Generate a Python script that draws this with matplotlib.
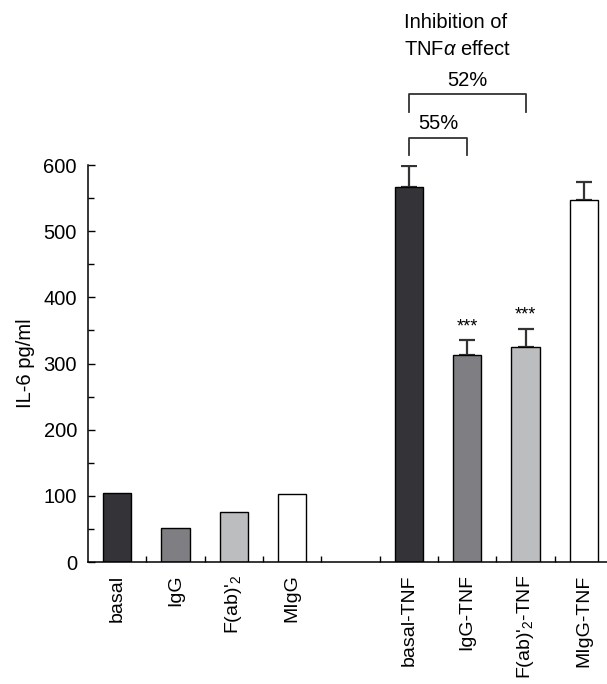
import matplotlib
matplotlib.use("Agg")
import matplotlib.pyplot as plt
from matplotlib.ticker import MultipleLocator

plt.rcParams["font.family"] = ["Liberation Sans", "DejaVu Sans"]
plt.rcParams["mathtext.fontset"] = "custom"
plt.rcParams["mathtext.rm"] = "Liberation Sans"
plt.rcParams["mathtext.it"] = "Liberation Sans:italic"

# data
labels = ["basal", "IgG", "F(ab)$'_{2}$", "MIgG",
          "basal-TNF", "IgG-TNF", "F(ab)$'_{2}$-TNF", "MIgG-TNF"]
positions = [0, 1, 2, 3, 5, 6, 7, 8]
values = [105, 52, 76, 103, 567, 313, 325, 547]
errors = [0, 0, 0, 0, 31, 22, 27, 28]
colours = ["#343438", "#7f7f83", "#bcbdbf", "#ffffff",
           "#343438", "#7f7f83", "#bcbdbf", "#ffffff"]
stars = {6: "***", 7: "***"}
brackets = [(5, 6, 641, 615, "55%"), (5, 7, 707, 680, "52%")]

FS = 14.5

fig = plt.figure(figsize=(6.07, 6.84), dpi=100)
ax = fig.add_axes([88 / 607, 122 / 684, 525 / 607, 397 / 684])

ax.bar(positions, values, width=0.49, color=colours, edgecolor="black",
       linewidth=1.0, zorder=2)
# error bars only on the TNF group (upper side)
for x, v, e in zip(positions, values, errors):
    if e > 0:
        ax.errorbar(x, v, yerr=[[0], [e]], color="#333333", elinewidth=1.6,
                    capsize=6, capthick=1.6, zorder=1)

for x, s in stars.items():
    i = positions.index(x)
    ax.text(x, values[i] + errors[i] + 8, s, ha="center", va="bottom",
            fontsize=13)

for x1, x2, top, bot, txt in brackets:
    ax.plot([x1, x1, x2, x2], [bot, top, top, bot], color="#333333",
            lw=1.3, clip_on=False)
    ax.text((x1 + x2) / 2, top + 7, txt, ha="center", va="bottom",
            fontsize=FS)

fig.text(404 / 607, 1 - 13 / 684, "Inhibition of\nTNF$\\alpha$ effect",
         ha="left", va="top", fontsize=FS, linespacing=1.55)

ax.set_xlim(-0.5, 8.5)
ax.set_ylim(0, 600)
ax.set_xticks(positions)
ax.set_xticklabels(labels, rotation=90, fontsize=14)
ax.set_xticks([p + 0.5 for p in range(8)], minor=True)
ax.tick_params(axis="x", which="major", length=0, pad=9)
ax.tick_params(axis="x", which="minor", direction="in", length=4, width=1)
ax.yaxis.set_major_locator(MultipleLocator(100))
ax.yaxis.set_minor_locator(MultipleLocator(50))
ax.tick_params(axis="y", which="major", direction="in", length=5, width=1,
               labelsize=FS, pad=8)
ax.tick_params(axis="y", which="minor", direction="in", length=4, width=1)
ax.set_ylabel("IL-6 pg/ml", fontsize=FS, labelpad=6)

for side in ["top", "right"]:
    ax.spines[side].set_visible(False)
for side in ["left", "bottom"]:
    ax.spines[side].set_linewidth(1.1)

fig.savefig("out.png", dpi=100)
